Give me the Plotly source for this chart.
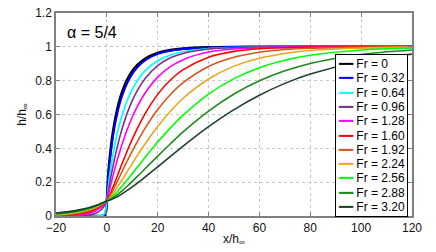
import plotly.graph_objects as go

x_vals = [-20, -15, -10, -6, -3, -2, -1, -0.5, 0, 0.5, 1, 2, 3, 4, 5, 6, 8, 10, 12, 15,
          20, 25, 30, 40, 50, 60, 70, 80, 100, 120]

fr_labels = ["0", "0.32", "0.64", "0.96", "1.28", "1.60", "1.92", "2.24", "2.56", "2.88", "3.20"]

h_fr000 = [0, 0, 0, 0, 0, 0, 0.002, 0.012, 0.09, 0.231, 0.321, 0.4535, 0.5505, 0.6255, 0.685, 0.7336,
           0.806, 0.8566, 0.8927, 0.9295, 0.9636, 0.9805, 0.9894, 0.9966, 0.999, 1.0, 1.0, 1.0, 1.0, 1.0]
h_fr032 = [0, 0, 0, 0, 0, 0.0003, 0.005, 0.022, 0.09, 0.216, 0.300, 0.428, 0.524, 0.599, 0.660, 0.710,
           0.786, 0.840, 0.879, 0.919, 0.958, 0.977, 0.987, 0.996, 0.9985, 0.9995, 1.0, 1.0, 1.0, 1.0]
h_fr064 = [0, 0, 0, 0, 0.0002, 0.0016, 0.012, 0.033, 0.09, 0.166, 0.226, 0.328, 0.411, 0.483, 0.544, 0.597,
           0.683, 0.749, 0.800, 0.858, 0.918, 0.952, 0.971, 0.990, 0.996, 0.9986, 0.9995, 1.0, 1.0, 1.0]
h_fr096 = [0, 0.0002, 0.0016, 0.0082, 0.027, 0.040, 0.060, 0.074, 0.09, 0.137, 0.181, 0.263, 0.336, 0.403,
           0.462, 0.516, 0.608, 0.682, 0.743, 0.812, 0.889, 0.935, 0.961, 0.987, 0.995, 0.998, 0.999, 1.0, 1.0, 1.0]
h_fr128 = [0.0006, 0.0021, 0.0074, 0.020, 0.0425, 0.055, 0.070, 0.079, 0.09, 0.120, 0.151, 0.213, 0.271,
           0.326, 0.377, 0.425, 0.511, 0.585, 0.648, 0.726, 0.821, 0.883, 0.924, 0.969, 0.987, 0.995, 0.998,
           0.999, 1.0, 1.0]
h_fr160 = [0.0024, 0.0059, 0.0146, 0.030, 0.052, 0.0625, 0.075, 0.082, 0.09, 0.103, 0.119, 0.155, 0.193,
           0.232, 0.272, 0.310, 0.384, 0.454, 0.518, 0.604, 0.719, 0.804, 0.865, 0.939, 0.973, 0.989, 0.995,
           0.998, 1.0, 1.0]
h_fr192 = [0.0048, 0.0099, 0.0207, 0.0373, 0.058, 0.067, 0.078, 0.084, 0.09, 0.100, 0.112, 0.140, 0.170,
           0.201, 0.232, 0.263, 0.325, 0.384, 0.440, 0.518, 0.629, 0.718, 0.788, 0.884, 0.938, 0.968, 0.984,
           0.992, 0.998, 1.0]
h_fr224 = [0.0074, 0.0138, 0.0258, 0.0425, 0.062, 0.070, 0.079, 0.0845, 0.09, 0.096, 0.104, 0.123, 0.144,
           0.167, 0.190, 0.214, 0.262, 0.310, 0.358, 0.426, 0.529, 0.619, 0.696, 0.810, 0.886, 0.933, 0.961,
           0.978, 0.993, 0.998]
h_fr256 = [0.0102, 0.0176, 0.0303, 0.0469, 0.065, 0.0724, 0.0807, 0.0852, 0.09, 0.0936, 0.0988, 0.112,
           0.126, 0.142, 0.159, 0.177, 0.213, 0.251, 0.289, 0.346, 0.437, 0.521, 0.596, 0.721, 0.812, 0.877,
           0.921, 0.950, 0.981, 0.993]
h_fr288 = [0.0134, 0.0216, 0.0347, 0.0508, 0.0676, 0.0744, 0.0818, 0.0858, 0.09, 0.0922, 0.0955, 0.104,
           0.114, 0.125, 0.137, 0.149, 0.176, 0.205, 0.234, 0.279, 0.354, 0.427, 0.497, 0.620, 0.721, 0.799,
           0.858, 0.902, 0.955, 0.981]
h_fr320 = [0.017, 0.0258, 0.0391, 0.0546, 0.0701, 0.0762, 0.0828, 0.0863, 0.09, 0.0913, 0.0934, 0.099,
           0.106, 0.114, 0.122, 0.131, 0.151, 0.172, 0.194, 0.230, 0.291, 0.352, 0.413, 0.528, 0.629, 0.714,
           0.784, 0.839, 0.915, 0.957]

series = [h_fr000, h_fr032, h_fr064, h_fr096, h_fr128, h_fr160, h_fr192, h_fr224, h_fr256, h_fr288, h_fr320]
colors = ["#000000", "#0000FF", "#00FFFF", "#7E2F8E", "#FF00FF", "#FF0000", "#D95319", "#EDA520",
          "#00FF00", "#1E8A1E", "#1F3F2F"]
widths = [2.6, 2.0, 1.7, 1.6, 1.6, 1.6, 1.6, 1.6, 1.6, 1.6, 1.6]

FONT = "Liberation Sans, Arial, Helvetica, sans-serif"

fig = go.Figure()
for lbl, ys, c, w in zip(fr_labels, series, colors, widths):
    fig.add_trace(go.Scatter(x=x_vals, y=ys, mode="lines", name=f"Fr = {lbl}",
                             line=dict(color=c, width=w, shape="spline", smoothing=0.8),
                             showlegend=False))

# legend drawn as a boxed text block (Plotly's legend rows are too tall for this size)
legend_lines = [f"<span style='color:{c};font-size:12px'>━━</span>"
                f"<span style='font-size:12px'> Fr = {lbl}</span>"
                for lbl, c in zip(fr_labels, colors)]
fig.add_annotation(xref="paper", yref="paper", x=0.989, y=0.798, xanchor="right", yanchor="top",
                   text="<br>".join(legend_lines), align="left", showarrow=False,
                   font=dict(family=FONT, size=11, color="#000000"),
                   bgcolor="#FFFFFF", bordercolor="#000000", borderwidth=1, borderpad=2)

fig.add_annotation(xref="paper", yref="paper", x=0.025, y=0.905, xanchor="left", yanchor="middle",
                   text="α = 5/4", showarrow=False,
                   font=dict(family=FONT, size=16, color="#000000"))

axis_common = dict(showline=True, linecolor="#808080", linewidth=1.5, mirror="ticks",
                   ticks="inside", ticklen=4, tickcolor="#808080", tickwidth=1,
                   showgrid=True, gridcolor="#C8C8C8", griddash="dot", gridwidth=1,
                   zeroline=False, automargin=False,
                   tickfont=dict(family=FONT, size=12, color="#111111"))

fig.update_xaxes(range=[-20, 120], tick0=-20, dtick=20,
                 title=dict(text="x/h<sub>∞</sub>", standoff=0,
                            font=dict(family=FONT, size=12, color="#111111")),
                 **axis_common)
fig.update_yaxes(range=[0, 1.2], tick0=0, dtick=0.2,
                 title=dict(text="h/h<sub>∞</sub>", standoff=6,
                            font=dict(family=FONT, size=12, color="#111111")),
                 **axis_common)

fig.update_layout(width=436, height=252, margin=dict(l=56, r=24, t=13, b=36),
                  paper_bgcolor="#FFFFFF", plot_bgcolor="#FFFFFF",
                  font=dict(family=FONT, size=12, color="#111111"), showlegend=False)

fig.write_html("out.html", config={"displayModeBar": False},
               post_script="document.body.style.margin='0';document.body.style.overflow='hidden';")
